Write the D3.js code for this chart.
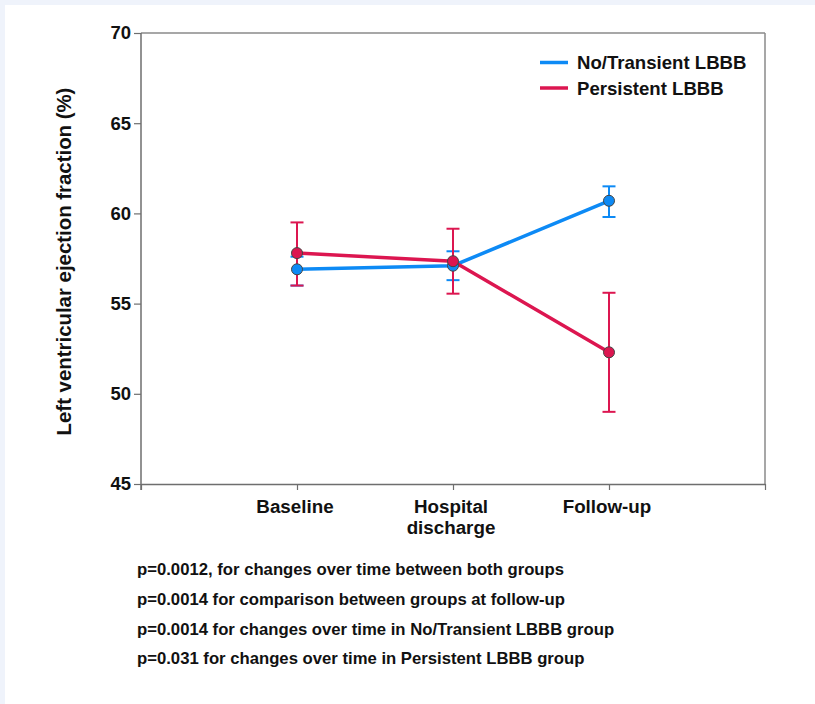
<!DOCTYPE html>
<html>
<head>
<meta charset="utf-8">
<script src="https://d3js.org/d3.v7.min.js"></script>
<style>
  body { margin: 0; background: #eff3fb; }
  svg { display: block; }
  text { font-family: "Liberation Sans", Arial, sans-serif; font-weight: bold; fill: #111; }
</style>
</head>
<body>
<svg width="815" height="704"></svg>
<script>
// values
var categories = ["Baseline", "Hospital|discharge", "Follow-up"];
var noTransientMean = [56.9, 57.1, 60.7];
var noTransientLow = [56.0, 56.3, 59.8];
var noTransientHigh = [57.6, 57.9, 61.5];
var persistentMean = [57.8, 57.35, 52.3];
var persistentLow = [56.0, 55.55, 49.0];
var persistentHigh = [59.5, 59.15, 55.6];
var yTicks = [45, 50, 55, 60, 65, 70];
var seriesNames = ["No/Transient LBBB", "Persistent LBBB"];
var notes = [
  "p=0.0012, for changes over time between both groups",
  "p=0.0014 for comparison between groups at follow-up",
  "p=0.0014 for changes over time in No/Transient LBBB group",
  "p=0.031 for changes over time in Persistent LBBB group"
];

var blue = "#0d8af5", red = "#dc1650";

var svg = d3.select("svg");
svg.append("rect").attr("x", 5).attr("y", 5).attr("width", 810).attr("height", 699).attr("fill", "#fff");

var pLeft = 141, pRight = 765, pTop = 33, pBottom = 484;
var x = d3.scaleLinear().domain([0, 4]).range([pLeft, pRight]);
var y = d3.scaleLinear().domain([45, 70]).range([pBottom, pTop]);

// frame
svg.append("line").attr("x1", pLeft).attr("x2", pRight).attr("y1", pTop).attr("y2", pTop)
  .attr("stroke", "#8a8a8a").attr("stroke-width", 1.5);
svg.append("line").attr("x1", pRight).attr("x2", pRight).attr("y1", pTop).attr("y2", pBottom)
  .attr("stroke", "#8a8a8a").attr("stroke-width", 1.5);

// y axis
var yAxis = svg.append("g").attr("transform", "translate(" + pLeft + ",0)")
  .call(d3.axisLeft(y).tickValues(yTicks).tickSize(7).tickPadding(3).tickSizeOuter(0));
yAxis.select(".domain").attr("stroke", "#6e6e6e").attr("stroke-width", 1.5)
  .attr("d", "M0," + pTop + "V" + (pBottom + 6));
yAxis.selectAll(".tick line").attr("stroke", "#6e6e6e").attr("stroke-width", 1.2);
yAxis.selectAll(".tick text").style("font-size", "18.5px").attr("fill", "#111");

// x axis
var xAxis = svg.append("g").attr("transform", "translate(0," + pBottom + ")")
  .call(d3.axisBottom(x).tickValues([0, 1, 2, 3, 4]).tickSize(6).tickSizeOuter(0).tickFormat(""));
xAxis.select(".domain").attr("stroke", "#6e6e6e").attr("stroke-width", 1.5);
xAxis.selectAll(".tick line").attr("stroke", "#6e6e6e").attr("stroke-width", 1.2);

categories.forEach(function(c, i) {
  var t = svg.append("text").attr("x", x(i + 1) - 2).attr("y", 513)
    .attr("text-anchor", "middle").style("font-size", "18.8px");
  c.split("|").forEach(function(part, j) {
    t.append("tspan").attr("x", x(i + 1) - 2).attr("dy", j == 0 ? 0 : 20.5).text(part);
  });
});

// y title
svg.append("text").attr("transform", "translate(71," + (89 + 434) / 2 + ") rotate(-90)")
  .attr("text-anchor", "middle").style("font-size", "20.4px")
  .text("Left ventricular ejection fraction (%)");

var series = [
  { mean: noTransientMean, low: noTransientLow, high: noTransientHigh, color: blue },
  { mean: persistentMean, low: persistentLow, high: persistentHigh, color: red }
];

// error bars (red drawn over blue)
series.forEach(function(s) {
  var g = svg.append("g").attr("stroke", s.color).attr("stroke-width", 2);
  s.mean.forEach(function(m, i) {
    var cx = x(i + 1);
    g.append("line").attr("x1", cx).attr("x2", cx).attr("y1", y(s.low[i])).attr("y2", y(s.high[i]));
    g.append("line").attr("x1", cx - 6.5).attr("x2", cx + 6.5).attr("y1", y(s.low[i])).attr("y2", y(s.low[i]));
    g.append("line").attr("x1", cx - 6.5).attr("x2", cx + 6.5).attr("y1", y(s.high[i])).attr("y2", y(s.high[i]));
  });
});

var line = d3.line().x(function(d, i) { return x(i + 1); }).y(function(d) { return y(d); });
series.forEach(function(s) {
  svg.append("path").datum(s.mean).attr("d", line).attr("fill", "none")
    .attr("stroke", s.color).attr("stroke-width", 3.5);
});
series.forEach(function(s) {
  svg.selectAll(null).data(s.mean).enter().append("circle")
    .attr("cx", function(d, i) { return x(i + 1); })
    .attr("cy", function(d) { return y(d); })
    .attr("r", 5.5).attr("fill", s.color).attr("stroke", "#444").attr("stroke-width", 1);
});

// legend
seriesNames.forEach(function(n, i) {
  var ly = 62.5 + i * 25.5;
  svg.append("line").attr("x1", 540).attr("x2", 568).attr("y1", ly).attr("y2", ly)
    .attr("stroke", series[i].color).attr("stroke-width", 3.5);
  svg.append("text").attr("x", 577).attr("y", ly + 6.5).style("font-size", "18.6px").text(n);
});

// notes
notes.forEach(function(n, i) {
  svg.append("text").attr("x", 137).attr("y", 575 + i * 29.8).style("font-size", "16.7px").text(n);
});
</script>
</body>
</html>
